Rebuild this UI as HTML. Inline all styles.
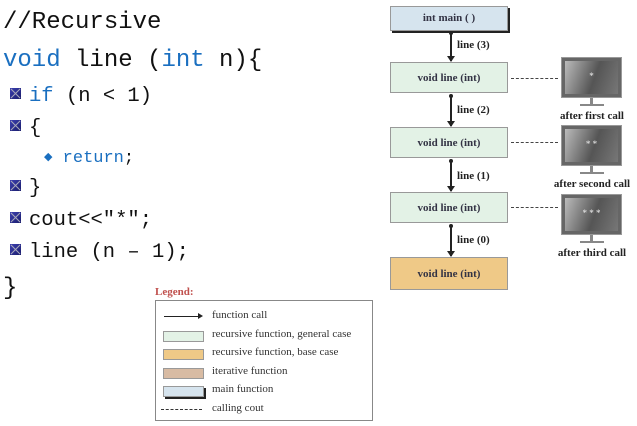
<!DOCTYPE html><html><head><style>
body{margin:0;width:637px;height:426px;background:#fff;position:relative;overflow:hidden;font-family:"Liberation Serif",serif}
.c{position:absolute;font-family:"Liberation Mono",monospace;white-space:pre;color:#111;line-height:1}
.k{color:#1a6fc0}
.sq{display:inline-block;width:11px;height:11px;background:linear-gradient(135deg,#3b3fb0,#1a1d6b);position:relative;vertical-align:middle;margin-right:8px;top:-2px}
.sq:before,.sq:after{content:"";position:absolute;left:-1px;top:5px;width:13px;height:1px;background:#aab;transform:rotate(45deg)}
.sq:after{transform:rotate(-45deg)}
.b{position:absolute;left:390px;width:118px;height:31px;border:1px solid #999;background:#e3f2e6;font-weight:bold;font-size:11px;color:#334;text-align:center;line-height:31px;box-sizing:border-box}
.lbl{position:absolute;left:457px;font-weight:bold;font-size:11px;color:#222}
.cap{position:absolute;width:90px;text-align:center;font-weight:bold;font-size:11px;color:#222}
.dot{position:absolute;left:511px;width:47px;border-top:1px dashed #444}
.mon{position:absolute;left:561px;width:61px;height:41px;background:#666;border:1px solid #999;box-sizing:border-box}
.mon i{position:absolute;left:3px;top:3px;right:3px;bottom:3px;background:linear-gradient(110deg,#bbb,#555 55%,#777);color:#eee;font-style:normal;font-size:9px;text-align:center;line-height:30px}
.st{position:absolute;width:3px;height:6px;background:#888}
.ba{position:absolute;width:24px;height:2px;background:#888}
.ar{position:absolute;left:450px;width:2px;background:#222}
.ar:after{content:"";position:absolute;left:-3px;bottom:-1px;border-top:6px solid #222;border-left:4px solid transparent;border-right:4px solid transparent}
.ar:before{content:"";position:absolute;left:-1px;top:-1px;width:4px;height:4px;border-radius:2px;background:#222}
.lg{position:absolute;left:163px;font-size:11px;color:#333}
.sw{position:absolute;left:163px;width:39px;height:9px;border:1px solid #999}
</style></head><body>
<div class="c" style="left:3px;top:11px;font-size:24px">//Recursive</div>
<div class="c" style="left:3px;top:49px;font-size:24px"><span class="k">void</span> line (<span class="k">int</span> n){</div>
<div class="c" style="left:10px;top:87px;font-size:20.5px"><span class="sq"></span><span class="k">if</span> (n &lt; 1)</div>
<div class="c" style="left:10px;top:119px;font-size:20.5px"><span class="sq"></span>{</div>
<div class="c" style="left:44px;top:150px;font-size:17px"><span style="color:#1a6fc0;font-size:11px;position:relative;top:-2px">◆</span> <span class="k">return</span>;</div>
<div class="c" style="left:10px;top:179px;font-size:20.5px"><span class="sq"></span>}</div>
<div class="c" style="left:10px;top:211px;font-size:20.5px"><span class="sq"></span>cout&lt;&lt;"*";</div>
<div class="c" style="left:10px;top:243px;font-size:20.5px"><span class="sq"></span>line (n – 1);</div>
<div class="c" style="left:3px;top:277px;font-size:24px">}</div>

<div class="b" style="top:6px;height:25px;line-height:23px;background:#d6e4ee;box-shadow:2px 2px 0 #222">int main ( )</div>
<div class="b" style="top:62px">void line (int)</div>
<div class="b" style="top:127px">void line (int)</div>
<div class="b" style="top:192px">void line (int)</div>
<div class="b" style="top:257px;height:33px;line-height:33px;background:#efc987">void line (int)</div>
<div class="ar" style="top:32px;height:29px"></div>
<div class="ar" style="top:95px;height:31px"></div>
<div class="ar" style="top:160px;height:31px"></div>
<div class="ar" style="top:225px;height:31px"></div>
<div class="lbl" style="top:39px">line (3)</div>
<div class="lbl" style="top:104px">line (2)</div>
<div class="lbl" style="top:170px">line (1)</div>
<div class="lbl" style="top:234px">line (0)</div>
<div class="dot" style="top:78px"></div><div class="dot" style="top:142px"></div><div class="dot" style="top:207px"></div>
<div class="mon" style="top:57px"><i>*</i></div><div class="st" style="left:590px;top:98px"></div><div class="ba" style="left:580px;top:104px"></div>
<div class="mon" style="top:125px"><i>* *</i></div><div class="st" style="left:590px;top:166px"></div><div class="ba" style="left:580px;top:172px"></div>
<div class="mon" style="top:194px"><i>* * *</i></div><div class="st" style="left:590px;top:235px"></div><div class="ba" style="left:580px;top:241px"></div>
<div class="cap" style="left:547px;top:110px">after first call</div>
<div class="cap" style="left:542px;top:178px;width:100px">after second call</div>
<div class="cap" style="left:547px;top:247px">after third call</div>

<div style="position:absolute;left:155px;top:286px;font-weight:bold;font-size:11px;color:#c0504d">Legend:</div>
<div style="position:absolute;left:155px;top:300px;width:218px;height:121px;border:1px solid #888;box-sizing:border-box"></div>
<div style="position:absolute;left:164px;top:316px;width:36px;height:1px;background:#222"></div>
<div style="position:absolute;left:198px;top:313px;border-left:5px solid #222;border-top:3px solid transparent;border-bottom:3px solid transparent"></div>
<div class="lg" style="left:212px;top:309px">function call</div>
<div class="sw" style="top:331px;background:#e3f2e6"></div><div class="lg" style="left:212px;top:328px">recursive function, general case</div>
<div class="sw" style="top:349px;background:#efc987"></div><div class="lg" style="left:212px;top:346px">recursive function, base case</div>
<div class="sw" style="top:368px;background:#d8bba3"></div><div class="lg" style="left:212px;top:365px">iterative function</div>
<div class="sw" style="top:386px;background:#d6e4ee;box-shadow:2px 2px 0 #222"></div><div class="lg" style="left:212px;top:383px">main function</div>
<div style="position:absolute;left:161px;top:409px;width:41px;border-top:1px dashed #333"></div><div class="lg" style="left:212px;top:402px">calling cout</div>
</body></html>
